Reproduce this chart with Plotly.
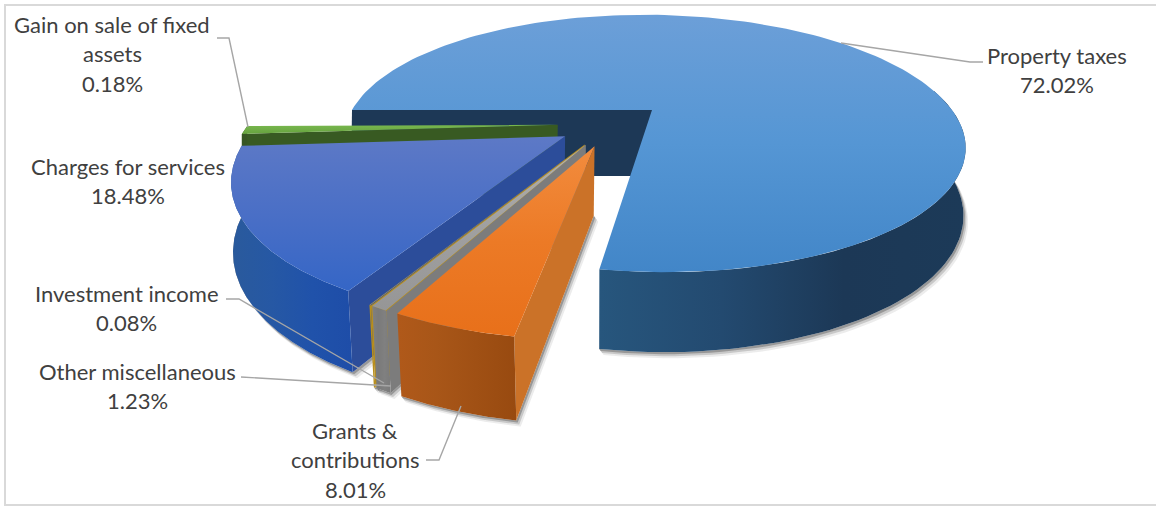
import numpy as np
import plotly.graph_objects as go

# Revenue shares, in clockwise order starting from the west edge of the pie
categories = ["Property taxes", "Grants & contributions", "Other miscellaneous",
              "Investment income", "Charges for services", "Gain on sale of fixed assets"]
shares = [72.02, 8.01, 1.23, 0.08, 18.48, 0.18]
share_text = ["72.02%", "8.01%", "1.23%", "0.08%", "18.48%", "0.18%"]

# Label layout: text lines, centre x, first line centre y
label_lines = [["Property taxes"], ["Grants &", "contributions"], ["Other miscellaneous"],
               ["Investment income"], ["Charges for services"], ["Gain on sale of fixed", "assets"]]
label_x = [1057, 355, 137, 126.5, 128, 112]
label_y = [55, 430, 371, 293, 166, 24]
LINE_STEP = 29.5

# Leader lines from each label to its slice
leader_x = [[983, 970, 841], [426, 439, 461], [241, 391], [226, 239, 384], [], [217, 229, 248]]
leader_y = [[62, 62, 43], [460, 460, 406], [377, 386], [299, 299, 383], [], [38, 38, 127]]

# Camera: separate plane projections for the top and the bottom of the pie
TOP = dict(x0=652, y0=110, a=300, q=-10, b=120, p=0.26)
BOTTOM = dict(x0=651, y0=176, a=300, q=-10, b=132.5, p=0.248)

START = 270.0
EXPLODE = 0.175

# Drawn bearing of each slice edge, unwrapped clockwise from the start
EDGE_DRAWN = [270.0, 549.4, 566.2, 568.6, 568.85, 626.0, 629.5]

TOP_COLORS = [["#6c9fd8", "#5596d4", "#4286c8"], ["#f28c3e", "#ec7a26", "#e8701a"],
              ["#b0b0b0", "#a0a0a0", "#969696"], ["#d0a93a", "#d0a93a", "#d0a93a"],
              ["#5d79c6", "#4a6fc6", "#3566c6"], ["#78b84e", "#70ad47", "#66a23e"]]
RIM_COLORS = [["#27567d", "#234a70", "#1c3856", "#1c3a58"], ["#b0591a", "#a85618", "#a05014", "#984a10"],
              ["#808080", "#7a7a7a", "#808080", "#7a7a7a"], ["#b88e1c", "#b88e1c", "#b88e1c", "#b88e1c"],
              ["#2a5a9c", "#2658a4", "#2052aa", "#1e4da8"], ["#375623", "#375623", "#375623", "#375623"]]
EDGE_COLORS = ["#1d3856", "#cb7228", "#7c7c7c", "#b88e1c", "#2c4d9a", "#385a22"]
LEADER_COLOR = "#a6a6a6"
TEXT_COLOR = "#404040"
FONT = "Lato"

edges = START + np.concatenate([[0], np.cumsum(shares)]) * 3.6


def to_drawn(theta):
    return np.interp(theta, edges, EDGE_DRAWN)


def project(x, y, cam):
    w = 1 + cam["p"] * y
    return cam["x0"] + (cam["a"] * x + cam["q"] * y) / w, cam["y0"] - cam["b"] * y / w


def direction(deg):
    rad = np.radians(deg)
    return np.sin(rad), np.cos(rad)


fig = go.Figure()


def polygon(xs, ys, colors, vertical=True):
    scale = [[i / (len(colors) - 1), c] for i, c in enumerate(colors)]
    lo, hi = (min(ys), max(ys)) if vertical else (min(xs), max(xs))
    fig.add_trace(go.Scatter(
        x=list(xs), y=list(ys), mode="lines", fill="toself", line=dict(width=0),
        hoverinfo="skip", showlegend=False,
        fillgradient=dict(type="vertical" if vertical else "horizontal",
                          colorscale=scale, start=lo, stop=hi)))


def flat(xs, ys, color):
    fig.add_trace(go.Scatter(x=list(xs), y=list(ys), mode="lines", fill="toself",
                             line=dict(width=0), fillcolor=color,
                             hoverinfo="skip", showlegend=False))


# The large slice sits at the origin; the pie centre is one explosion step behind it
main_mid = (to_drawn(edges[0]) + to_drawn(edges[1])) / 2
mx, my = direction(main_mid)
centre = (-EXPLODE * mx, -EXPLODE * my)


def draw_slice(index):
    drawn = to_drawn(np.linspace(edges[index], edges[index + 1], 160))
    dx, dy = direction((drawn[0] + drawn[-1]) / 2)
    ax, ay = centre[0] + EXPLODE * dx, centre[1] + EXPLODE * dy
    sx, sy = direction(drawn)
    wx, wy = ax + sx, ay + sy

    tx, ty = project(wx, wy, TOP)
    bx, by = project(wx, wy, BOTTOM)
    atx, aty = project(ax, ay, TOP)
    abx, aby = project(ax, ay, BOTTOM)

    # Only the near side of the outer wall is seen
    visible = drawn > 440

    # Soft contact shadow along the lower outline
    if index == 0:
        sh_x, sh_y = bx[visible], by[visible]
    else:
        sh_x, sh_y = np.r_[abx, bx[visible]], np.r_[aby, by[visible]]
    for ox, oy, alpha in [(1.5, 2, 0.30), (3, 4, 0.18), (4.5, 6, 0.09)]:
        flat(np.r_[sh_x + ox, sh_x[::-1]], np.r_[sh_y + oy, sh_y[::-1]], f"rgba(40,40,40,{alpha})")

    # Radial wall: the west one on the big slice, the east one on the others
    polygon([atx, tx[0], bx[0], abx], [aty, ty[0], by[0], aby], [EDGE_COLORS[index]] * 2)

    # Outer wall
    polygon(np.r_[tx[visible], bx[visible][::-1]], np.r_[ty[visible], by[visible][::-1]],
            RIM_COLORS[index], vertical=False)

    # Top face
    polygon(np.r_[atx, tx, atx], np.r_[aty, ty, aty], TOP_COLORS[index])


# Back to front
for i in [0, 5, 4, 3, 2, 1]:
    draw_slice(i)

for xs, ys in zip(leader_x, leader_y):
    if xs:
        fig.add_trace(go.Scatter(x=xs, y=ys, mode="lines", hoverinfo="skip", showlegend=False,
                                 line=dict(color=LEADER_COLOR, width=1.4)))

for lines, pct, x, y in zip(label_lines, share_text, label_x, label_y):
    for n, text in enumerate(lines + [pct]):
        fig.add_annotation(x=x, y=y + n * LINE_STEP, text=text, showarrow=False,
                           xanchor="center", yanchor="middle",
                           font=dict(family=FONT, size=22, color=TEXT_COLOR))

fig.add_shape(type="rect", x0=5, y0=5, x1=1170, y1=505, line=dict(color="#d9d9d9", width=2))

fig.update_layout(
    width=1156, height=506, autosize=False, margin=dict(l=0, r=0, t=0, b=0),
    paper_bgcolor="white", plot_bgcolor="white", showlegend=False,
    xaxis=dict(range=[0, 1156], visible=False, fixedrange=True),
    yaxis=dict(range=[506, 0], visible=False, fixedrange=True),
)
fig.write_html("out.html", config={"displayModeBar": False})
